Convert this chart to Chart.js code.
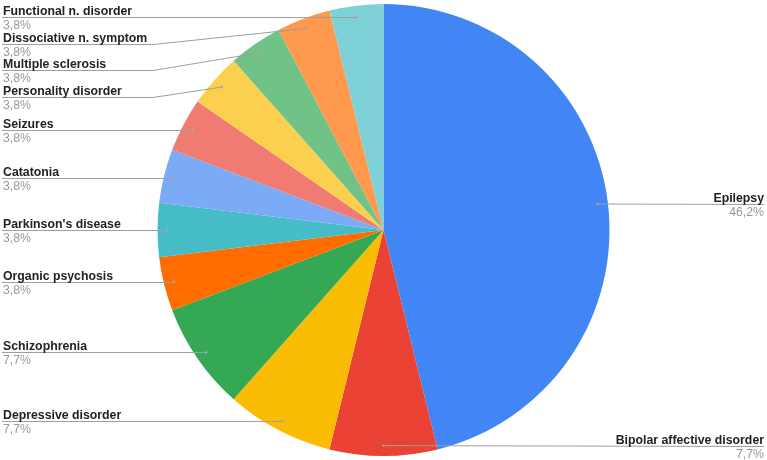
<!DOCTYPE html>
<html>
<head>
<meta charset="utf-8">
<script src="https://cdn.jsdelivr.net/npm/chart.js@4/dist/chart.umd.min.js"></script>
<style>
  html, body { margin: 0; padding: 0; background: #fff; }
  #wrap { width: 767px; height: 460px; position: relative; }
</style>
</head>
<body>
<div id="wrap"><canvas id="c" width="767" height="460"></canvas></div>
<script>
const categories = [
  "Epilepsy", "Bipolar affective disorder", "Depressive disorder", "Schizophrenia",
  "Organic psychosis", "Parkinson's disease", "Catatonia", "Seizures",
  "Personality disorder", "Multiple sclerosis", "Dissociative n. symptom", "Functional n. disorder"
];
const counts = [12, 2, 2, 2, 1, 1, 1, 1, 1, 1, 1, 1];

const palette = [
  "#4285F4", "#EA4335", "#FBBC04", "#34A853", "#FF6D01", "#46BDC6",
  "#7BAAF7", "#F07B72", "#FCD04F", "#71C287", "#FF994D", "#7ED1D7"
];

const total = counts.reduce((a, b) => a + b, 0);
function pctLabel(v) { return (v / total * 100).toFixed(1).replace('.', ',') + '%'; }

const labelPlugin = {
  id: 'outLabels',
  afterDraw(chart) {
    const ctx = chart.ctx;
    const meta = chart.getDatasetMeta(0);
    const W = chart.width;
    const items = meta.data.map((arc, i) => {
      const p = arc.getProps(['x', 'y', 'startAngle', 'endAngle', 'outerRadius'], true);
      const a = (p.startAngle + p.endAngle) / 2;
      const r = p.outerRadius * 0.954;
      const dx = p.x + Math.cos(a) * r;
      const dy = p.y + Math.sin(a) * r;
      return { i, dx, dy, right: Math.cos(a) > -0.01, ly: dy };
    });
    const gap = 26.7, minY = 17;
    [true, false].forEach(side => {
      const arr = items.filter(o => o.right === side).sort((a, b) => a.dy - b.dy);
      let prev = -Infinity;
      arr.forEach(o => {
        o.ly = Math.max(o.dy, prev + gap, minY);
        prev = o.ly;
      });
    });
    ctx.save();
    items.forEach(o => {
      const ly = Math.round(o.ly) + 0.5;
      ctx.strokeStyle = '#9e9e9e';
      ctx.lineWidth = 1;
      ctx.beginPath();
      if (o.right) {
        ctx.moveTo(o.dx, o.dy);
        ctx.lineTo(W - 3, ly);
      } else {
        ctx.moveTo(2, ly);
        if (Math.abs(o.ly - o.dy) > 1.5) {
          ctx.lineTo(153, ly);
          ctx.lineTo(o.dx, o.dy);
        } else {
          ctx.lineTo(o.dx, ly);
        }
      }
      ctx.stroke();
      ctx.fillStyle = '#aaaaaa';
      ctx.beginPath();
      ctx.arc(o.dx, o.dy, 1.2, 0, Math.PI * 2);
      ctx.fill();

      ctx.textBaseline = 'alphabetic';
      ctx.textAlign = o.right ? 'right' : 'left';
      const tx = o.right ? W - 3 : 3;
      ctx.font = 'bold 12.3px "Liberation Sans", Arial, sans-serif';
      ctx.fillStyle = '#222222';
      ctx.fillText(categories[o.i], tx, ly - 3);
      ctx.font = '12.3px "Liberation Sans", Arial, sans-serif';
      ctx.fillStyle = '#999999';
      ctx.fillText(pctLabel(counts[o.i]), tx, ly + 11);
    });
    ctx.restore();
  }
};

new Chart(document.getElementById('c'), {
  type: 'pie',
  data: {
    labels: categories,
    datasets: [{
      data: counts,
      backgroundColor: palette,
      borderWidth: 0
    }]
  },
  options: {
    responsive: false,
    animation: false,
    layout: { padding: { top: 4, bottom: 4, left: 0, right: 0 } },
    plugins: {
      legend: { display: false },
      tooltip: { enabled: false }
    }
  },
  plugins: [labelPlugin]
});
</script>
</body>
</html>
